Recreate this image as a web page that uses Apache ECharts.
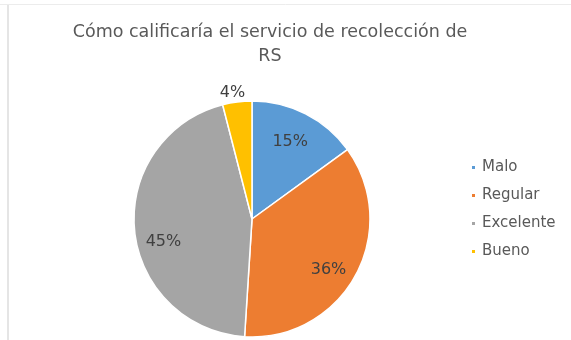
<!DOCTYPE html>
<html>
<head>
<meta charset="utf-8">
<script src="https://cdn.jsdelivr.net/npm/echarts@6/dist/echarts.min.js"></script>
<style>
  html, body { margin: 0; padding: 0; background: #ffffff; }
  #chart { width: 571px; height: 340px; }
</style>
</head>
<body>
<div id="chart"></div>
<script>
// Survey answers and their shares (%)
const categories = ['Malo', 'Regular', 'Excelente', 'Bueno'];
const shares = [15, 36, 45, 4];
const colors = ['#5B9BD5', '#ED7D31', '#A5A5A5', '#FFC000'];
const titleText = 'Cómo calificaría el servicio de recolección de\nRS';

// Slices whose label sits outside the pie
const outsideLabels = ['Bueno'];

// Small nudges of the percentage labels (px)
const labelNudge = {
  Malo: [-4, 6],
  Regular: [-5, 6],
  Excelente: [4, 14],
  Bueno: [-3, 5]
};

const chart = echarts.init(document.getElementById('chart'), null, { renderer: 'canvas' });

const center = [252, 219];
const radius = 118;
const font = 'DejaVu Sans, sans-serif';

const pieData = categories.map((name, i) => ({
  name: name,
  value: shares[i],
  itemStyle: { color: colors[i] }
}));

// Label rings: transparent overlays used only to place the percentage texts
const ringData = (outside) => categories.map((name, i) => ({
  name: name,
  value: shares[i],
  label: {
    show: (outsideLabels.indexOf(name) >= 0) === outside,
    offset: labelNudge[name]
  }
}));

const labelRing = (r, data) => ({
  type: 'pie',
  center: center,
  radius: r,
  startAngle: 90,
  clockwise: true,
  silent: true,
  animation: false,
  legendHoverLink: false,
  itemStyle: { color: 'rgba(0,0,0,0)', borderWidth: 0 },
  emphasis: { disabled: true },
  label: {
    position: 'inside',
    formatter: (p) => p.value + '%',
    color: '#404040',
    fontSize: 16,
    fontFamily: font
  },
  labelLine: { show: false },
  data: data
});

chart.setOption({
  backgroundColor: '#ffffff',
  animation: false,
  title: {
    text: titleText,
    left: 265,
    top: 15,
    textAlign: 'center',
    textStyle: {
      color: '#595959',
      fontSize: 17.5,
      fontWeight: 'normal',
      fontFamily: font,
      lineHeight: 24
    }
  },
  legend: {
    orient: 'vertical',
    left: 465,
    top: 155,
    itemWidth: 5,
    itemHeight: 5,
    itemGap: 13,
    icon: 'rect',
    textStyle: { color: '#595959', fontSize: 15, fontFamily: font, padding: [0, 0, 0, 1] },
    data: categories.map((name, i) => ({ name: name, itemStyle: { color: colors[i] } }))
  },
  graphic: [
    { type: 'line', shape: { x1: 8, y1: 5, x2: 8, y2: 340 }, style: { stroke: '#dcdcdc', lineWidth: 1.5 } },
    { type: 'line', shape: { x1: 0, y1: 4.5, x2: 571, y2: 4.5 }, style: { stroke: '#ececec', lineWidth: 1 } }
  ],
  series: [
    {
      type: 'pie',
      center: center,
      radius: radius,
      startAngle: 90,
      clockwise: true,
      animation: false,
      itemStyle: { borderColor: '#ffffff', borderWidth: 1.5 },
      label: { show: false },
      labelLine: { show: false },
      data: pieData
    },
    labelRing([62, radius], ringData(false)),
    labelRing([radius, 140], ringData(true))
  ]
});
</script>
</body>
</html>
